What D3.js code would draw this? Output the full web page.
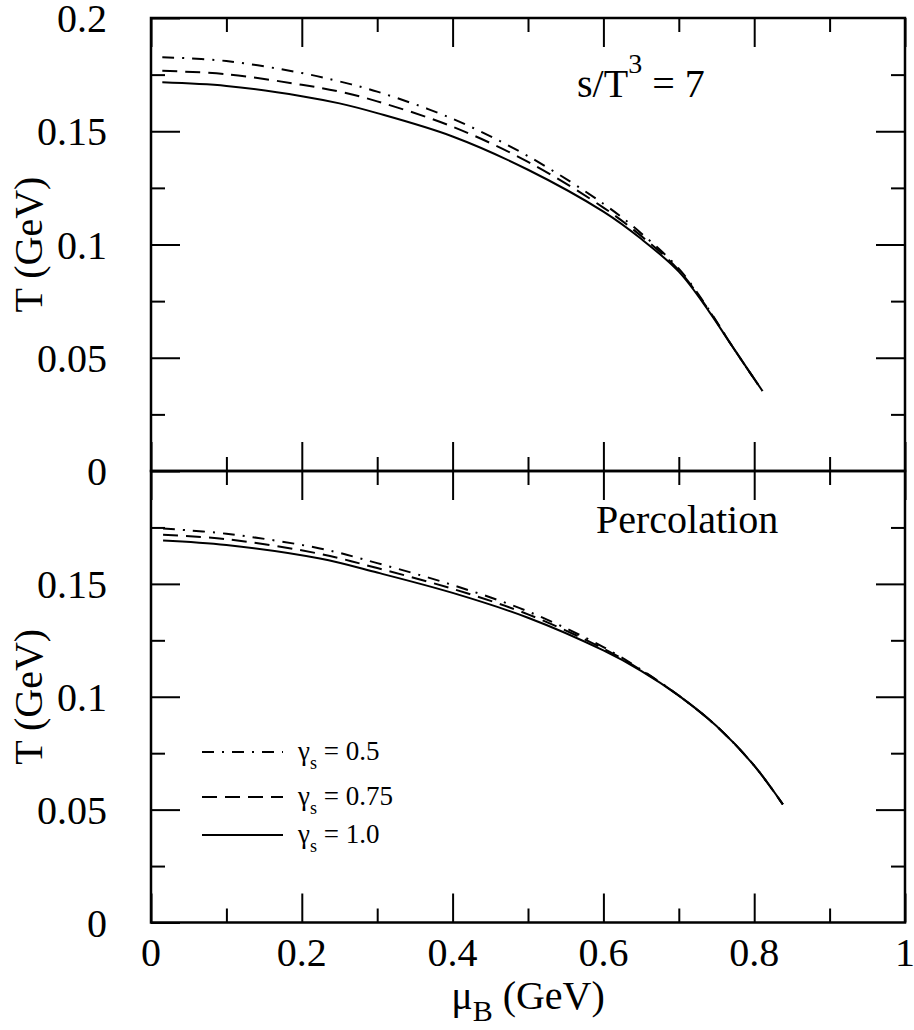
<!DOCTYPE html>
<html>
<head>
<meta charset="utf-8">
<script src="https://cdn.jsdelivr.net/npm/d3@7"></script>
<style>
  body { margin: 0; background: #fff; }
  text { font-family: "Liberation Serif", "Times New Roman", serif; fill: #000; }
</style>
</head>
<body>
<div id="container"></div>
<script>
let w = 914;
let h = 1030;

// top panel: s/T^3 = 7
let muTop = [0.015, 0.1, 0.2, 0.25, 0.3, 0.4, 0.5, 0.6, 0.65, 0.7, 0.74, 0.77, 0.811];
let topSolid = [0.1716, 0.1700, 0.1655, 0.1623, 0.1580, 0.1477, 0.1330, 0.1145, 0.1025, 0.0880, 0.0705, 0.0555, 0.0353];
let topDashed = [0.1767, 0.1752, 0.1705, 0.1675, 0.1632, 0.1520, 0.1365, 0.1163, 0.1038, 0.0887, 0.0709, 0.0555, 0.0353];
let topDashDot = [0.1827, 0.1810, 0.1757, 0.1720, 0.1675, 0.1555, 0.1390, 0.1180, 0.1050, 0.0893, 0.0712, 0.0555, 0.0353];

// bottom panel: percolation
let muBot = [0.016, 0.1, 0.224, 0.3, 0.4, 0.5, 0.6, 0.65, 0.7, 0.75, 0.8, 0.838];
let botSolid = [0.1692, 0.1672, 0.1612, 0.1550, 0.1460, 0.1350, 0.1205, 0.1115, 0.1005, 0.0870, 0.0695, 0.0523];
let botDashed = [0.1718, 0.1698, 0.1633, 0.1570, 0.1478, 0.1365, 0.1213, 0.1118, 0.1005, 0.0870, 0.0695, 0.0523];
let botDashDot = [0.1745, 0.1722, 0.1657, 0.1592, 0.1495, 0.1378, 0.1220, 0.1120, 0.1005, 0.0870, 0.0695, 0.0523];

let gammaLabels = ["0.5", "0.75", "1.0"];
let dashes = ["12,8,2,8", "15,8", null];

let xTicks = [0, 0.2, 0.4, 0.6, 0.8, 1];
let xMinor = [0.1, 0.3, 0.5, 0.7, 0.9];
let yTicksTop = [0, 0.05, 0.1, 0.15, 0.2];
let yTicksBot = [0, 0.05, 0.1, 0.15];
let yMinor = [0.025, 0.075, 0.125, 0.175];

let left = 151, right = 905;
let topY = 18, midY = 471, botY = 922.5;

let svg = d3.select("#container")
  .append("svg")
  .attr("width", w)
  .attr("height", h)
  .style("background-color", "white");

let xScale = d3.scaleLinear().domain([0, 1]).range([left, right]);
let yTop = d3.scaleLinear().domain([0, 0.2]).range([midY, topY]);
let yBot = d3.scaleLinear().domain([0, 0.2]).range([botY, midY]);

function styleAxis(g) {
  g.select(".domain").remove();
  g.selectAll(".tick line").attr("stroke", "#000").attr("stroke-width", 2);
}

function drawPanel(yScale, yTicks, y0, y1) {
  // x ticks bottom (inward) and top (inward)
  let bottom = svg.append("g").attr("transform", "translate(0," + y1 + ")");
  bottom.call(d3.axisBottom(xScale).tickValues(xTicks).tickSize(-29).tickFormat(""));
  styleAxis(bottom);
  let bottomMinor = svg.append("g").attr("transform", "translate(0," + y1 + ")");
  bottomMinor.call(d3.axisBottom(xScale).tickValues(xMinor).tickSize(-14).tickFormat(""));
  styleAxis(bottomMinor);

  let top = svg.append("g").attr("transform", "translate(0," + y0 + ")");
  top.call(d3.axisTop(xScale).tickValues(xTicks).tickSize(-29).tickFormat(""));
  styleAxis(top);
  let topMinor = svg.append("g").attr("transform", "translate(0," + y0 + ")");
  topMinor.call(d3.axisTop(xScale).tickValues(xMinor).tickSize(-14).tickFormat(""));
  styleAxis(topMinor);

  // y ticks left with labels, right inward
  let leftAx = svg.append("g").attr("transform", "translate(" + left + ",0)");
  leftAx.call(d3.axisLeft(yScale).tickValues(yTicks).tickSize(-29).tickPadding(44)
    .tickFormat(d => String(d)));
  styleAxis(leftAx);
  leftAx.selectAll(".tick text")
    .attr("font-family", "Liberation Serif, serif")
    .attr("font-size", 40)
    .attr("dy", "0.34em")
    .attr("fill", "#000");
  let leftMinor = svg.append("g").attr("transform", "translate(" + left + ",0)");
  leftMinor.call(d3.axisLeft(yScale).tickValues(yMinor).tickSize(-14).tickFormat(""));
  styleAxis(leftMinor);

  let rightAx = svg.append("g").attr("transform", "translate(" + right + ",0)");
  rightAx.call(d3.axisRight(yScale).tickValues([0.05, 0.1, 0.15]).tickSize(-29).tickFormat(""));
  styleAxis(rightAx);
  let rightMinor = svg.append("g").attr("transform", "translate(" + right + ",0)");
  rightMinor.call(d3.axisRight(yScale).tickValues(yMinor).tickSize(-14).tickFormat(""));
  styleAxis(rightMinor);

  // frame
  svg.append("rect")
    .attr("x", left).attr("y", y0)
    .attr("width", right - left).attr("height", y1 - y0)
    .attr("fill", "none").attr("stroke", "#000").attr("stroke-width", 2.5);

  // y title
  svg.append("text")
    .attr("transform", "translate(42," + ((y0 + y1) / 2) + ") rotate(-90)")
    .attr("text-anchor", "middle")
    .attr("font-size", 40)
    .text("T (GeV)");
}

drawPanel(yTop, yTicksTop, topY, midY);
drawPanel(yBot, yTicksBot, midY, botY);

// x tick labels
svg.append("g").selectAll("text")
  .data(xTicks)
  .enter()
  .append("text")
  .attr("x", d => xScale(d))
  .attr("y", 966)
  .attr("text-anchor", "middle")
  .attr("font-size", 40)
  .text(d => String(d));

// x title
let xt = svg.append("text")
  .attr("x", 528)
  .attr("y", 1009)
  .attr("text-anchor", "middle")
  .attr("font-size", 40);
xt.append("tspan").text("μ");
xt.append("tspan").attr("font-size", 30).attr("dy", 12).text("B");
xt.append("tspan").attr("dy", -12).text(" (GeV)");

// curves
function drawCurves(mu, seriesList, yScale) {
  let line = d3.line()
    .x(d => xScale(d[0]))
    .y(d => yScale(d[1]))
    .curve(d3.curveCatmullRom.alpha(0.5));
  seriesList.forEach((vals, i) => {
    let pts = mu.map((m, j) => [m, vals[j]]);
    let p = svg.append("path")
      .datum(pts)
      .attr("fill", "none")
      .attr("stroke", "#000")
      .attr("stroke-width", 2)
      .attr("d", line);
    if (dashes[i]) p.attr("stroke-dasharray", dashes[i]);
  });
}

drawCurves(muTop, [topDashDot, topDashed, topSolid], yTop);
drawCurves(muBot, [botDashDot, botDashed, botSolid], yBot);

// panel labels
let lab = svg.append("text")
  .attr("x", 577)
  .attr("y", 97)
  .attr("font-size", 40);
lab.append("tspan").text("s/T");
lab.append("tspan").attr("font-size", 28).attr("dy", -24).text("3");
lab.append("tspan").attr("dy", 24).text(" = 7");

svg.append("text")
  .attr("x", 596)
  .attr("y", 533)
  .attr("font-size", 40)
  .text("Percolation");

// legend
let legendY = [752, 797, 835];
gammaLabels.forEach((g, i) => {
  let l = svg.append("line")
    .attr("x1", 202).attr("x2", 283)
    .attr("y1", legendY[i]).attr("y2", legendY[i])
    .attr("stroke", "#000").attr("stroke-width", 2);
  if (dashes[i]) l.attr("stroke-dasharray", dashes[i]);
  let t = svg.append("text")
    .attr("x", 298)
    .attr("y", legendY[i] + 8)
    .attr("font-size", 27);
  t.append("tspan").text("γ");
  t.append("tspan").attr("font-size", 18).attr("dy", 9).text("s");
  t.append("tspan").attr("dy", -9).text(" = " + g);
});
</script>
</body>
</html>
